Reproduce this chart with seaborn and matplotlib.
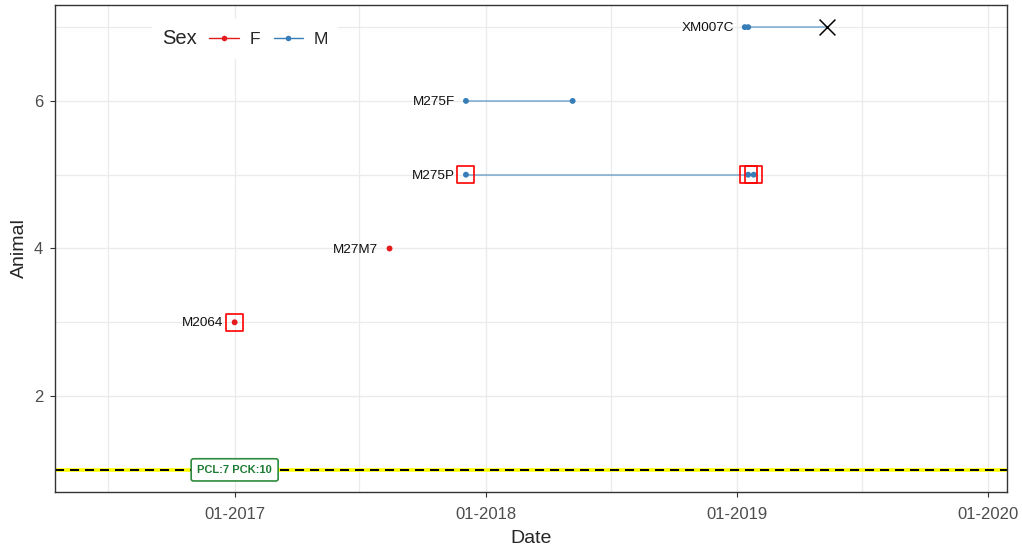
import pandas as pd
import seaborn as sns
import matplotlib.pyplot as plt
import matplotlib.dates as mdates
from matplotlib.lines import Line2D
from matplotlib.offsetbox import HPacker

# animals and their row on the y axis
animals = ['M2064', 'M27M7', 'M275P', 'M275F', 'XM007C']
animal_y = [3, 4, 5, 6, 7]
animal_sex = ['F', 'F', 'M', 'M', 'M']

# sightings
event_animal = ['M2064', 'M27M7', 'M275P', 'M275P', 'M275P', 'M275F', 'M275F', 'XM007C', 'XM007C']
event_date = ['2017-01-01', '2017-08-14', '2017-12-03', '2019-01-17', '2019-01-25',
              '2017-12-03', '2018-05-07', '2019-01-12', '2019-01-17']
event_boxed = [True, False, True, True, True, False, False, False, False]

# death records
death_animal = ['XM007C']
death_date = ['2019-05-12']

# reference line
ref_y = 1
ref_date = '2017-01-01'
ref_label = 'PCL:7 PCK:10'

pal = {'F': '#E41A1C', 'M': '#377EB8'}

ani = pd.DataFrame({'Animal': animals, 'y': animal_y, 'Sex': animal_sex})
ev = pd.DataFrame({'Animal': event_animal, 'Date': pd.to_datetime(event_date), 'boxed': event_boxed})
ev = ev.merge(ani, on='Animal')
dead = pd.DataFrame({'Animal': death_animal, 'Date': pd.to_datetime(death_date)}).merge(ani, on='Animal')

# segment from first sighting to last sighting / death
allpts = pd.concat([ev[['Animal', 'Date']], dead[['Animal', 'Date']]])
seg = allpts.groupby('Animal')['Date'].agg(['min', 'max']).reset_index()
seg = seg.melt(id_vars='Animal', value_name='Date').drop(columns='variable').merge(ani, on='Animal')

sns.set_style('ticks')
plt.rcParams['font.family'] = ['Liberation Sans', 'DejaVu Sans']
plt.rcParams['lines.scale_dashes'] = False

fig, ax = plt.subplots(figsize=(10.22, 5.5), dpi=100)
fig.subplots_adjust(left=55/1022, right=1007/1022, bottom=1-492/550, top=1-5/550)

# dashed reference line
ax.axhline(ref_y, color='#FFFF00', lw=2.6, zorder=2)
ax.axhline(ref_y, color='black', lw=1.4, dashes=(6.5, 4.3), zorder=2.1)
ax.text(pd.Timestamp(ref_date), ref_y, ref_label, ha='center', va='center', fontsize=8,
        fontweight='bold', color='#1E7B34', zorder=5,
        bbox=dict(boxstyle='round,pad=0.55,rounding_size=0.2', fc='white', ec='#2E8B3E', lw=1.2))

sns.lineplot(data=seg, x='Date', y='y', hue='Sex', units='Animal', estimator=None, sort=False,
             palette=pal, alpha=0.55, lw=1.3, legend=False, ax=ax, zorder=3)
sns.scatterplot(data=ev, x='Date', y='y', hue='Sex', palette=pal, s=18, linewidth=0,
                legend=False, ax=ax, zorder=4)
bx = ev[ev['boxed']]
ax.scatter(bx['Date'], bx['y'], marker='s', s=150, facecolors='none', edgecolors='#FF0000',
           linewidths=1.2, zorder=4)
sns.scatterplot(data=dead, x='Date', y='y', marker='x', color='black', s=130, linewidth=1.1,
                legend=False, ax=ax, zorder=4)

first = ev.groupby('Animal')['Date'].min()
for name, yy in zip(animals, animal_y):
    ax.annotate(name, (first[name], yy), xytext=(-8, -0.8), textcoords='offset points',
                ha='right', va='center', fontsize=9.7, color='#111111', zorder=5)

ax.set_xlim(pd.Timestamp('2016-04-15'), pd.Timestamp('2020-01-28'))
ax.set_ylim(0.7, 7.3)
ax.xaxis.set_major_locator(mdates.YearLocator())
ax.xaxis.set_major_formatter(mdates.DateFormatter('%m-%Y'))
ax.xaxis.set_minor_locator(mdates.MonthLocator(bymonth=7))
ax.set_yticks([2, 4, 6])
ax.set_yticks([1, 3, 5, 7], minor=True)
ax.grid(which='major', color='#EBEBEB', lw=1.0, zorder=0)
ax.grid(which='minor', color='#EBEBEB', lw=0.9, zorder=0)
ax.set_axisbelow(True)
ax.tick_params(which='major', length=3.5, width=0.8, color='#333333', labelsize=12,
               labelcolor='#4D4D4D')
ax.tick_params(axis='x', which='major', pad=7)
ax.tick_params(axis='y', which='major', pad=5)
ax.tick_params(which='minor', length=0)
for s in ax.spines.values():
    s.set_visible(True)
    s.set_color('#333333')
    s.set_linewidth(1.0)
ax.set_xlabel('Date', fontsize=14, labelpad=6)
ax.set_ylabel('Animal', fontsize=14, labelpad=4)

handles = [Line2D([], [], color=pal[k], alpha=1, lw=1.0, marker='o', markersize=4,
                  markeredgewidth=0) for k in ['F', 'M']]
leg = ax.legend(handles, ['F', 'M'], title='Sex', ncol=2, loc='center left',
                bbox_to_anchor=(143/1022, 1-39/550), bbox_transform=fig.transFigure,
                frameon=True, facecolor='white', edgecolor='none', framealpha=1, fancybox=False,
                fontsize=12.5, title_fontsize=14.5, handlelength=1.7, handletextpad=0.6,
                columnspacing=0.8, borderpad=0.6)
leg.get_frame().set_linewidth(0)
box = leg._legend_box
tbox, hbox = box.get_children()
hp = HPacker(pad=0, sep=9, align='center', children=[tbox, hbox])
box._children = [hp]
hp.set_figure(fig)

fig.savefig('out.png', dpi=100)
